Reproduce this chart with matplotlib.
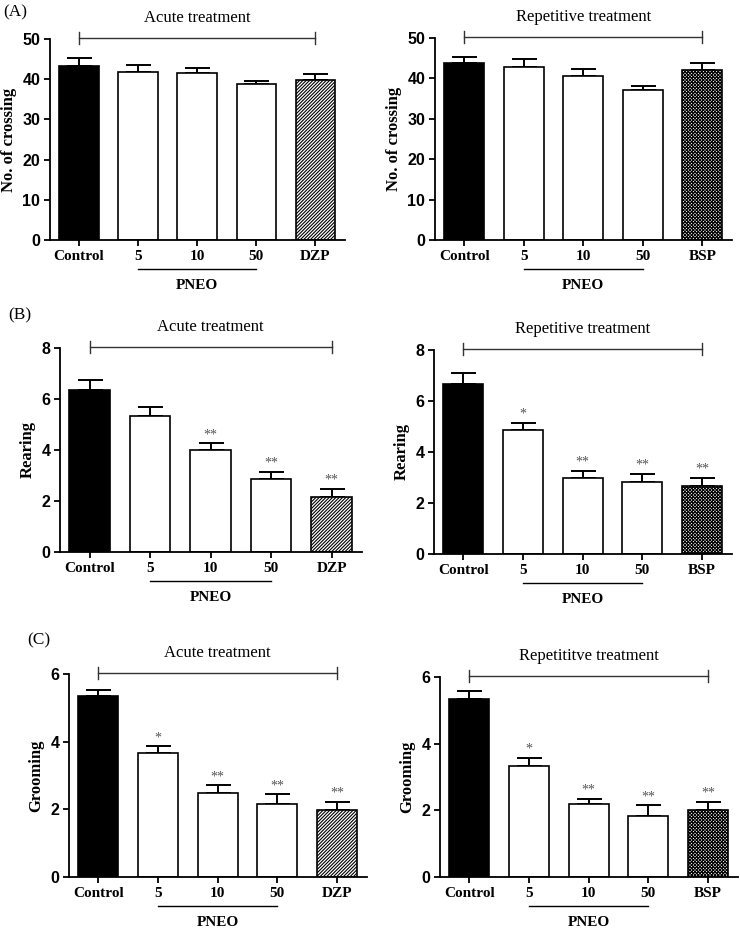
import numpy as np
import matplotlib
matplotlib.use('Agg')
import matplotlib.pyplot as plt
from matplotlib.transforms import offset_copy

plt.rcParams['hatch.linewidth'] = 0.8

acute_groups = ['Control', '5', '10', '50', 'DZP']
rep_groups = ['Control', '5', '10', '50', 'BSP']

# (A) number of crossings
cross_acute = [43.4, 41.9, 41.5, 38.7, 39.8]
cross_acute_sem = [1.9, 1.7, 1.2, 0.9, 1.6]
cross_rep = [43.9, 42.8, 40.7, 37.1, 42.2]
cross_rep_sem = [1.5, 1.9, 1.7, 1.0, 1.5]

# (B) rearing
rear_acute = [6.36, 5.35, 4.00, 2.85, 2.16]
rear_acute_sem = [0.39, 0.33, 0.26, 0.30, 0.32]
rear_rep = [6.67, 4.85, 3.00, 2.84, 2.68]
rear_rep_sem = [0.44, 0.30, 0.27, 0.31, 0.31]

# (C) grooming
groom_acute = [5.34, 3.66, 2.49, 2.15, 1.99]
groom_acute_sem = [0.20, 0.20, 0.22, 0.30, 0.24]
groom_rep = [5.35, 3.34, 2.18, 1.84, 2.01]
groom_rep_sem = [0.22, 0.23, 0.17, 0.31, 0.25]

no_stars = ['', '', '', '', '']
rear_acute_stars = ['', '', '**', '**', '**']
rear_rep_stars = ['', '*', '**', '**', '**']
groom_acute_stars = ['', '*', '**', '**', '**']
groom_rep_stars = ['', '*', '**', '**', '**']

W, H = 740, 930
fig = plt.figure(figsize=(W / 100, H / 100), dpi=100)

SERIF = 'Liberation Serif'
SANS = 'Liberation Sans'


def px_axes(x0, y0, x1, y1):
    # pixel box (top-left origin) -> figure axes
    return fig.add_axes([x0 / W, 1 - y1 / H, (x1 - x0) / W, (y1 - y0) / H])


def panel(box, groups, means, sem, stars, ymax, yticks, ylabel, title, last_hatch):
    ax = px_axes(*box)
    x = np.arange(len(groups))
    faces = ['black', 'white', 'white', 'white', 'white']
    hatches = [None, None, None, None, last_hatch]
    for i in x:
        ax.bar(x[i], means[i], width=0.67, color=faces[i], edgecolor='black',
               linewidth=1.2, hatch=hatches[i], zorder=2)
    ax.errorbar(x, means, yerr=[np.zeros(len(x)), sem], fmt='none', ecolor='black',
                elinewidth=1.4, capsize=9, capthick=1.4, zorder=1)
    for i in x:
        if stars[i]:
            ax.text(x[i], means[i] + sem[i] + ymax * 0.01, stars[i], ha='center', va='bottom',
                    fontsize=10, color='#555555', family=SERIF)

    ax.set_xlim(-0.49, 4.5)
    ax.set_ylim(0, ymax)
    ax.set_yticks(yticks)
    ax.set_xticks(x)
    ax.set_xticklabels(groups, fontsize=11, fontweight='bold', family=SERIF)
    for lab in ax.get_yticklabels():
        lab.set_fontsize(11.5)
        lab.set_fontweight('bold')
        lab.set_family(SANS)
    ax.set_ylabel(ylabel, fontsize=12, fontweight='bold', family=SERIF, labelpad=4)
    for s in ['top', 'right']:
        ax.spines[s].set_visible(False)
    for s in ['left', 'bottom']:
        ax.spines[s].set_linewidth(1.3)
    ax.tick_params(axis='both', direction='out', length=4, width=1.3, pad=3)

    # bracket over all groups
    tr = ax.get_xaxis_transform()
    ax.plot([0, 4], [1.005, 1.005], transform=tr, color='#333333', lw=1.0, clip_on=False)
    for xe in (0, 4):
        ax.plot([xe, xe], [0.975, 1.035], transform=tr, color='#333333', lw=1.0, clip_on=False)
    ax.text(2, 1.065, title, transform=tr, ha='center', va='bottom', fontsize=12, family=SERIF)

    # PNEO underline
    tline = offset_copy(tr, fig=fig, y=-21, units='points')
    ax.plot([1, 3], [0, 0], transform=tline, color='black', lw=1.0, clip_on=False)
    ttext = offset_copy(tr, fig=fig, y=-28, units='points')
    ax.text(2, 0, 'PNEO', transform=ttext, ha='center', va='top', fontsize=11,
            fontweight='bold', family=SERIF)
    return ax


panel((50, 39, 345, 240), acute_groups, cross_acute, cross_acute_sem, no_stars, 50,
      [0, 10, 20, 30, 40, 50], 'No. of crossing', 'Acute treatment', '//////////')
panel((435, 38, 732, 240), rep_groups, cross_rep, cross_rep_sem, no_stars, 50,
      [0, 10, 20, 30, 40, 50], 'No. of crossing', 'Repetitive treatment', 'xxxxxxxxxx')
panel((60, 348, 362, 552), acute_groups, rear_acute, rear_acute_sem, rear_acute_stars, 8,
      [0, 2, 4, 6, 8], 'Rearing', 'Acute treatment', '//////////')
panel((434, 350, 732, 554), rep_groups, rear_rep, rear_rep_sem, rear_rep_stars, 8,
      [0, 2, 4, 6, 8], 'Rearing', 'Repetitive treatment', 'xxxxxxxxxx')
panel((69, 674, 367, 877), acute_groups, groom_acute, groom_acute_sem, groom_acute_stars, 6,
      [0, 2, 4, 6], 'Grooming', 'Acute treatment', '//////////')
panel((440, 677, 738, 877), rep_groups, groom_rep, groom_rep_sem, groom_rep_stars, 6,
      [0, 2, 4, 6], 'Grooming', 'Repetititve treatment', 'xxxxxxxxxx')

fig.text(3 / W, 1 - 12 / H, '(A)', fontsize=12.5, family=SERIF, va='center', ha='left')
fig.text(8 / W, 1 - 315 / H, '(B)', fontsize=12.5, family=SERIF, va='center', ha='left')
fig.text(27 / W, 1 - 640 / H, '(C)', fontsize=12.5, family=SERIF, va='center', ha='left')

fig.savefig('out.png', dpi=100)
